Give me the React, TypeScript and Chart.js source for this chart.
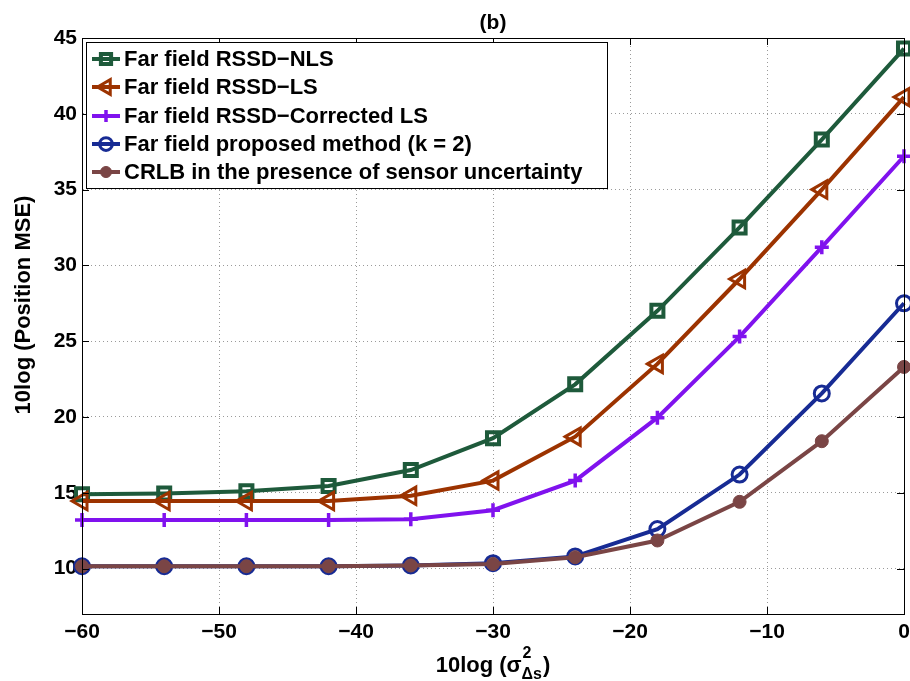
import React, { useEffect, useRef } from 'react';
import { Chart, registerables } from 'chart.js';

Chart.register(...registerables);

// ---- data ----
const xValues = [-60, -54, -48, -42, -36, -30, -24, -18, -12, -6, 0];
const nlsValues = [14.9, 14.95, 15.1, 15.45, 16.5, 18.6, 22.15, 27.0, 32.5, 38.3, 44.3];
const lsValues = [14.45, 14.45, 14.45, 14.45, 14.8, 15.8, 18.7, 23.5, 29.1, 35.0, 41.1];
const correctedLsValues = [13.2, 13.2, 13.2, 13.2, 13.25, 13.85, 15.8, 19.95, 25.3, 31.2, 37.2];
const proposedValues = [10.15, 10.15, 10.15, 10.15, 10.2, 10.35, 10.8, 12.6, 16.2, 21.55, 27.5];
const crlbValues = [10.15, 10.15, 10.15, 10.15, 10.2, 10.3, 10.75, 11.85, 14.4, 18.4, 23.3];

const seriesLabels = [
  'Far field RSSD\u2212NLS',
  'Far field RSSD\u2212LS',
  'Far field RSSD\u2212Corrected LS',
  'Far field proposed method (k = 2)',
  'CRLB in the presence of sensor uncertainty',
];
const xTicks = [-60, -50, -40, -30, -20, -10, 0];
const yTicks = [10, 15, 20, 25, 30, 35, 40, 45];
const chartTitle = '(b)';
const yTitle = '10log (Position MSE)';
const xTitleMain = '10log (\u03C3';
const xTitleSup = '2';
const xTitleSub = '\u0394s';
const xTitleEnd = ')';

const FONT = "'Liberation Sans', Arial, Helvetica, sans-serif";

const styles = [
  { color: '#1e5a3b', point: 'rect', radius: 8.5, pbw: 4, fill: 'rgba(0,0,0,0)', rot: 0 },
  { color: '#9c3300', point: 'triangle', radius: 10, pbw: 3, fill: 'rgba(0,0,0,0)', rot: -90 },
  { color: '#8012ee', point: 'cross', radius: 7, pbw: 3.5, fill: 'rgba(0,0,0,0)', rot: 0 },
  { color: '#172b94', point: 'circle', radius: 7.5, pbw: 3, fill: 'rgba(0,0,0,0)', rot: 0 },
  { color: '#7a4545', point: 'circle', radius: 6.5, pbw: 1, fill: '#7a4545', rot: 0 },
];
const seriesValues = [nlsValues, lsValues, correctedLsValues, proposedValues, crlbValues];

function drawMarker(ctx: CanvasRenderingContext2D, kind: string, x: number, y: number, r: number, color: string, fill: string, lw: number, rot: number) {
  ctx.save();
  ctx.strokeStyle = color;
  ctx.fillStyle = fill;
  ctx.lineWidth = lw;
  ctx.beginPath();
  if (kind === 'rect') {
    const s = Math.SQRT1_2 * r;
    ctx.rect(x - s, y - s, 2 * s, 2 * s);
  } else if (kind === 'triangle') {
    ctx.translate(x, y);
    ctx.rotate((rot * Math.PI) / 180);
    ctx.moveTo(0, -r);
    ctx.lineTo(r * Math.cos(Math.PI / 6), r * 0.5);
    ctx.lineTo(-r * Math.cos(Math.PI / 6), r * 0.5);
    ctx.closePath();
  } else if (kind === 'cross') {
    ctx.moveTo(x - r, y);
    ctx.lineTo(x + r, y);
    ctx.moveTo(x, y - r);
    ctx.lineTo(x, y + r);
  } else {
    ctx.arc(x, y, r, 0, Math.PI * 2);
  }
  ctx.fill();
  ctx.stroke();
  ctx.restore();
}

const decorPlugin = {
  id: 'decor',
  afterDraw(chart: any) {
    const ctx: CanvasRenderingContext2D = chart.ctx;
    const area = chart.chartArea;
    const xs = chart.scales.x;
    const ys = chart.scales.y;
    ctx.save();
    // frame
    ctx.strokeStyle = '#000';
    ctx.lineWidth = 1;
    ctx.strokeRect(Math.round(area.left) + 0.5, Math.round(area.top) + 0.5, Math.round(area.right - area.left), Math.round(area.bottom - area.top));
    // inward ticks
    ctx.beginPath();
    const tl = 7;
    for (const t of xTicks) {
      const px = Math.round(xs.getPixelForValue(t)) + 0.5;
      ctx.moveTo(px, area.bottom);
      ctx.lineTo(px, area.bottom - tl);
      ctx.moveTo(px, area.top);
      ctx.lineTo(px, area.top + tl);
    }
    for (const t of yTicks) {
      const py = Math.round(ys.getPixelForValue(t)) + 0.5;
      ctx.moveTo(area.left, py);
      ctx.lineTo(area.left + tl, py);
      ctx.moveTo(area.right, py);
      ctx.lineTo(area.right - tl, py);
    }
    ctx.stroke();

    // x tick labels
    ctx.fillStyle = '#000';
    ctx.font = `bold 21px ${FONT}`;
    ctx.textAlign = 'center';
    ctx.textBaseline = 'middle';
    for (const t of xTicks) {
      ctx.fillText(String(t).replace('-', '\u2212'), xs.getPixelForValue(t), area.bottom + 18);
    }

    // title
    ctx.font = `bold 21px ${FONT}`;
    const cx = (area.left + area.right) / 2;
    ctx.fillText(chartTitle, cx, 23);

    // y title
    ctx.save();
    ctx.translate(24, 305);
    ctx.rotate(-Math.PI / 2);
    ctx.font = `bold 22px ${FONT}`;
    ctx.textAlign = 'center';
    ctx.textBaseline = 'middle';
    ctx.fillText(yTitle, 0, 0);
    ctx.restore();

    // x title with super/subscript
    ctx.textAlign = 'left';
    ctx.textBaseline = 'alphabetic';
    const mainFont = `bold 22px ${FONT}`;
    const smallFont = `bold 16px ${FONT}`;
    ctx.font = mainFont;
    const wMain = ctx.measureText(xTitleMain).width;
    const wEnd = ctx.measureText(xTitleEnd).width;
    ctx.font = smallFont;
    const wSup = ctx.measureText(xTitleSup).width;
    const wSub = ctx.measureText(xTitleSub).width;
    const wScript = Math.max(wSup, wSub);
    const total = wMain + wScript + wEnd + 1;
    const x0 = cx - total / 2;
    const base = 672;
    ctx.font = mainFont;
    ctx.fillText(xTitleMain, x0, base);
    ctx.font = smallFont;
    ctx.fillText(xTitleSup, x0 + wMain + 1, base - 14);
    ctx.fillText(xTitleSub, x0 + wMain, base + 7);
    ctx.font = mainFont;
    ctx.fillText(xTitleEnd, x0 + wMain + wScript + 1, base);

    // legend
    const lx = 86, ly = 42, lw = 521, lh = 146;
    ctx.fillStyle = '#fff';
    ctx.fillRect(lx, ly, lw, lh);
    ctx.strokeStyle = '#000';
    ctx.lineWidth = 1;
    ctx.strokeRect(lx + 0.5, ly + 0.5, lw, lh);
    const rowY = [59, 87, 116, 144, 172];
    ctx.textBaseline = 'middle';
    ctx.textAlign = 'left';
    seriesLabels.forEach((label, i) => {
      const st = styles[i];
      const y = rowY[i];
      ctx.strokeStyle = st.color;
      ctx.lineWidth = 4;
      ctx.beginPath();
      ctx.moveTo(92, y);
      ctx.lineTo(120, y);
      ctx.stroke();
      drawMarker(ctx, st.point, 106, y, st.radius * 0.85, st.color, st.fill, st.pbw, st.rot);
      ctx.fillStyle = '#000';
      ctx.font = `bold 22px ${FONT}`;
      ctx.fillText(label, 124, y + 1);
    });
    ctx.restore();
  },
};

export default function App() {
  const ref = useRef<HTMLCanvasElement | null>(null);
  useEffect(() => {
    document.body.style.margin = '0';
    const canvas = ref.current;
    if (!canvas) return;
    const datasets = seriesLabels.map((label, i) => ({
      label,
      data: xValues.map((x, j) => ({ x, y: seriesValues[i][j] })),
      borderColor: styles[i].color,
      backgroundColor: styles[i].fill,
      borderWidth: 4,
      pointStyle: styles[i].point,
      pointRadius: styles[i].radius,
      pointBorderWidth: styles[i].pbw,
      pointBorderColor: styles[i].color,
      pointBackgroundColor: styles[i].fill,
      pointRotation: styles[i].rot,
      tension: 0,
      fill: false,
      clip: false,
      order: 4 - i,
    }));
    const chart = new Chart(canvas, {
      type: 'line',
      data: { datasets },
      options: {
        responsive: false,
        animation: false,
        layout: { autoPadding: false, padding: { top: 38, right: 6, left: 0, bottom: 0 } },
        plugins: { legend: { display: false }, title: { display: false }, tooltip: { enabled: false } },
        scales: {
          x: {
            type: 'linear',
            min: -60,
            max: 0,
            afterBuildTicks: (s: any) => { s.ticks = xTicks.map((v) => ({ value: v })); },
            afterFit: (s: any) => { s.height = 67; s.paddingLeft = 0; s.paddingRight = 0; },
            grid: { color: '#9a9a9a', lineWidth: 1, drawTicks: false },
            border: { display: true, color: '#000', width: 1, dash: [1, 3] },
            ticks: { display: false },
          },
          y: {
            type: 'linear',
            min: 7,
            max: 45,
            afterBuildTicks: (s: any) => { s.ticks = yTicks.map((v) => ({ value: v })); },
            afterFit: (s: any) => { s.width = 82; s.paddingTop = 0; s.paddingBottom = 0; },
            grid: { color: '#9a9a9a', lineWidth: 1, drawTicks: false },
            border: { display: true, color: '#000', width: 1, dash: [1, 3] },
            ticks: {
              color: '#000',
              padding: 5,
              font: { family: FONT, size: 21, weight: 'bold' },
            },
          },
        },
      },
      plugins: [decorPlugin],
    } as any);
    return () => chart.destroy();
  }, []);
  return (
    <div style={{ width: 910, height: 681, background: '#fff' }}>
      <canvas ref={ref} width={910} height={681} style={{ display: 'block' }} />
    </div>
  );
}
